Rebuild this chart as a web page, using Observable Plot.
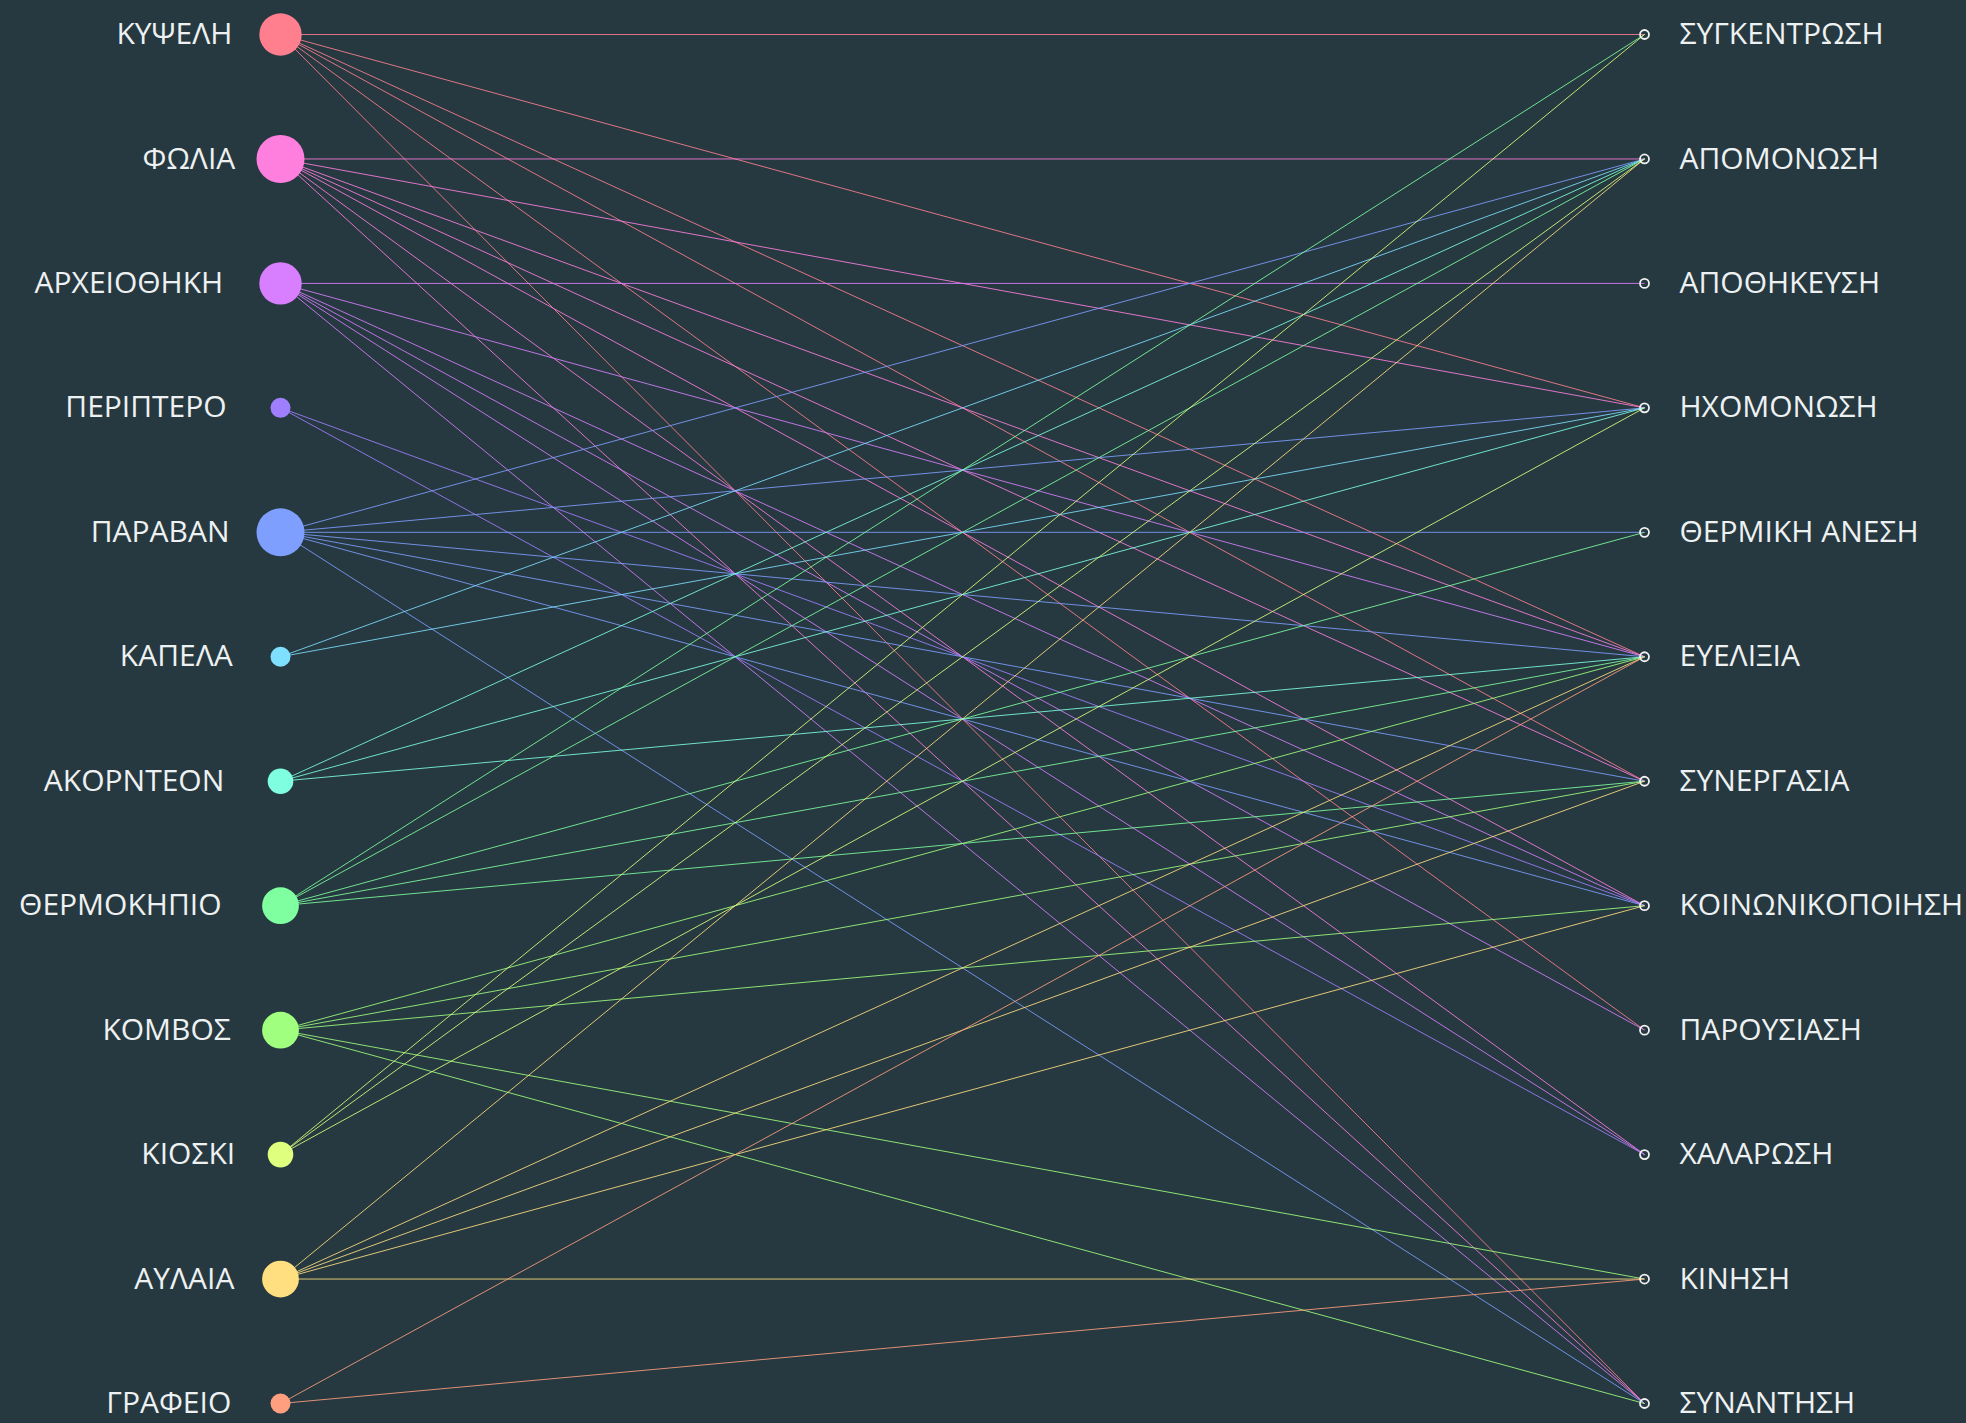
<!DOCTYPE html>
<html><head><meta charset="utf-8">
<script src="https://cdn.jsdelivr.net/npm/d3@7"></script>
<script src="https://cdn.jsdelivr.net/npm/@observablehq/plot@0.6"></script>
<style>
html,body{margin:0;padding:0;background:#263940;overflow:hidden;}
#chart svg{display:block;}
</style></head><body><div id="chart"></div>
<script>
// Left column: spaces (coloured nodes)
const spaces = ["ΚΥΨΕΛΗ","ΦΩΛΙΑ","ΑΡΧΕΙΟΘΗΚΗ","ΠΕΡΙΠΤΕΡΟ","ΠΑΡΑΒΑΝ","ΚΑΠΕΛΑ","ΑΚΟΡΝΤΕΟΝ","ΘΕΡΜΟΚΗΠΙΟ","ΚΟΜΒΟΣ","ΚΙΟΣΚΙ","ΑΥΛΑΙΑ","ΓΡΑΦΕΙΟ"];
const spaceColors = ["#ff7f8f","#ff7fdf","#d87fff","#a07fff","#7f9fff","#7fdfff","#7fffdf","#7fff9f","#a0ff7f","#dfff7f","#ffdf7f","#ff9f7f"];
// Right column: functions (hollow nodes)
const functions = ["ΣΥΓΚΕΝΤΡΩΣΗ","ΑΠΟΜΟΝΩΣΗ","ΑΠΟΘΗΚΕΥΣΗ","ΗΧΟΜΟΝΩΣΗ","ΘΕΡΜΙΚΗ ΑΝΕΣΗ","ΕΥΕΛΙΞΙΑ","ΣΥΝΕΡΓΑΣΙΑ","ΚΟΙΝΩΝΙΚΟΠΟΙΗΣΗ","ΠΑΡΟΥΣΙΑΣΗ","ΧΑΛΑΡΩΣΗ","ΚΙΝΗΣΗ","ΣΥΝΑΝΤΗΣΗ"];
// Connections: for each space, the functions it supports
const linksKypseli      = ["ΣΥΓΚΕΝΤΡΩΣΗ","ΗΧΟΜΟΝΩΣΗ","ΕΥΕΛΙΞΙΑ","ΣΥΝΕΡΓΑΣΙΑ","ΠΑΡΟΥΣΙΑΣΗ","ΣΥΝΑΝΤΗΣΗ"];
const linksFolia        = ["ΑΠΟΜΟΝΩΣΗ","ΗΧΟΜΟΝΩΣΗ","ΕΥΕΛΙΞΙΑ","ΣΥΝΕΡΓΑΣΙΑ","ΚΟΙΝΩΝΙΚΟΠΟΙΗΣΗ","ΧΑΛΑΡΩΣΗ","ΣΥΝΑΝΤΗΣΗ"];
const linksArxeiothiki  = ["ΑΠΟΘΗΚΕΥΣΗ","ΕΥΕΛΙΞΙΑ","ΚΟΙΝΩΝΙΚΟΠΟΙΗΣΗ","ΠΑΡΟΥΣΙΑΣΗ","ΧΑΛΑΡΩΣΗ","ΣΥΝΑΝΤΗΣΗ"];
const linksPeriptero    = ["ΚΟΙΝΩΝΙΚΟΠΟΙΗΣΗ","ΧΑΛΑΡΩΣΗ"];
const linksParavan      = ["ΑΠΟΜΟΝΩΣΗ","ΗΧΟΜΟΝΩΣΗ","ΘΕΡΜΙΚΗ ΑΝΕΣΗ","ΕΥΕΛΙΞΙΑ","ΣΥΝΕΡΓΑΣΙΑ","ΚΟΙΝΩΝΙΚΟΠΟΙΗΣΗ","ΣΥΝΑΝΤΗΣΗ"];
const linksKapela       = ["ΑΠΟΜΟΝΩΣΗ","ΗΧΟΜΟΝΩΣΗ"];
const linksAkornteon    = ["ΑΠΟΜΟΝΩΣΗ","ΗΧΟΜΟΝΩΣΗ","ΕΥΕΛΙΞΙΑ"];
const linksThermokipio  = ["ΣΥΓΚΕΝΤΡΩΣΗ","ΑΠΟΜΟΝΩΣΗ","ΘΕΡΜΙΚΗ ΑΝΕΣΗ","ΕΥΕΛΙΞΙΑ","ΣΥΝΕΡΓΑΣΙΑ"];
const linksKomvos       = ["ΕΥΕΛΙΞΙΑ","ΣΥΝΕΡΓΑΣΙΑ","ΚΟΙΝΩΝΙΚΟΠΟΙΗΣΗ","ΚΙΝΗΣΗ","ΣΥΝΑΝΤΗΣΗ"];
const linksKioski       = ["ΣΥΓΚΕΝΤΡΩΣΗ","ΑΠΟΜΟΝΩΣΗ","ΗΧΟΜΟΝΩΣΗ"];
const linksAulaia       = ["ΑΠΟΜΟΝΩΣΗ","ΕΥΕΛΙΞΙΑ","ΣΥΝΕΡΓΑΣΙΑ","ΚΟΙΝΩΝΙΚΟΠΟΙΗΣΗ","ΚΙΝΗΣΗ"];
const linksGrafeio      = ["ΕΥΕΛΙΞΙΑ","ΚΙΝΗΣΗ"];

const linkLists = [linksKypseli,linksFolia,linksArxeiothiki,linksPeriptero,linksParavan,linksKapela,linksAkornteon,linksThermokipio,linksKomvos,linksKioski,linksAulaia,linksGrafeio];

const links = [];
linkLists.forEach((list, i) => list.forEach(t => links.push({source: spaces[i], target: t, sRow: i, tRow: functions.indexOf(t)})));
const leftData = spaces.map((name, i) => ({name, side: "L", row: i, degree: linkLists[i].length}));
const rightData = functions.map((name, i) => ({name, side: "R", row: i}));

const bg = "#263940";
const chart = Plot.plot({
  width: 1966, height: 1423,
  marginTop: 0, marginBottom: 0, marginLeft: 0, marginRight: 0,
  style: {background: bg, fontFamily: "'Open Sans', sans-serif", overflow: "visible"},
  x: {type: "point", domain: ["L","R"], range: [280, 1644], padding: 0, round: false, axis: null},
  y: {type: "point", domain: d3.range(12), range: [34, 1403], padding: 0, round: false, axis: null},
  r: {type: "linear", domain: [2, 7], range: [10, 24]},
  color: {type: "ordinal", domain: spaces, range: spaceColors},
  marks: [
    Plot.link(links, {x1: () => "L", y1: "sRow", x2: () => "R", y2: "tRow", stroke: "source", strokeWidth: 1, strokeOpacity: 0.85}),
    Plot.dot(leftData, {x: "side", y: "row", r: "degree", fill: "name", stroke: "none"}),
    Plot.dot(rightData, {x: "side", y: "row", r: 4.5, fill: "none", stroke: "#f2f2f2", strokeWidth: 1.8}),
    Plot.text(leftData, {x: "side", y: "row", text: "name", textAnchor: "end", dx: -33.5, fontSize: 30, fill: "#eef1f2", lineAnchor: "middle", ariaLabel: "left-labels"}),
    Plot.text(rightData, {x: "side", y: "row", text: "name", textAnchor: "start", dx: 35, fontSize: 30, fill: "#eef1f2", lineAnchor: "middle", ariaLabel: "right-labels"})
  ]
});
document.getElementById("chart").appendChild(chart);

// the reference's left labels drift left in proportion to their own width
const leftGroup = chart.querySelector('g[aria-label="left-labels"]') || chart.querySelectorAll('g[aria-label="text"]')[0];
if (leftGroup) {
  leftGroup.querySelectorAll("text").forEach(el => {
    const w = el.getComputedTextLength();
    const t = el.getAttribute("transform") || "";
    el.setAttribute("transform", (t + ` translate(${(-0.126 * w).toFixed(2)},0)`).trim());
  });
}
</script>
</body></html>
